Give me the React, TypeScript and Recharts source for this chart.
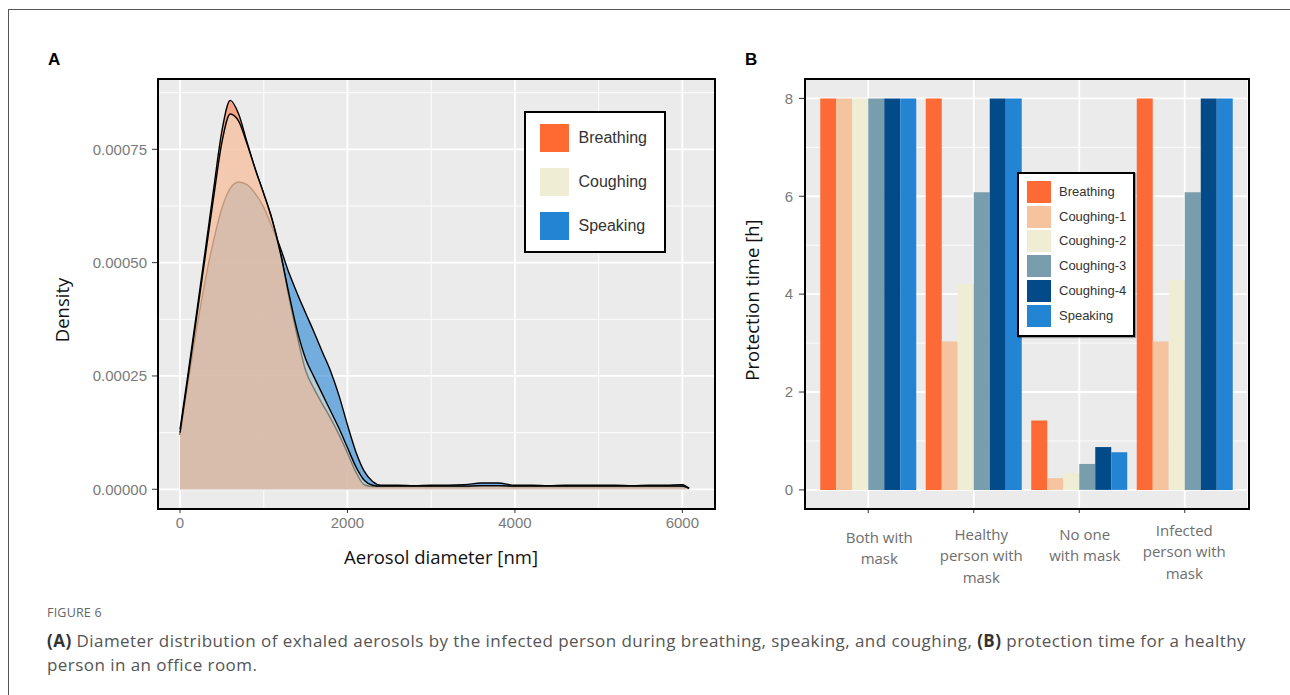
import React from "react";
import { AreaChart, Area, BarChart, Bar, XAxis, YAxis, CartesianGrid } from "recharts";

// ---- panel A: density of exhaled aerosol diameter ----
const diameters = [
  0, 100, 200, 300, 400, 500, 600, 700, 800, 900, 1000, 1100, 1200, 1300, 1400, 1500, 1600, 1700, 1800, 1900, 2000,
  2100, 2200, 2300, 2400, 2600, 2800, 3000, 3200, 3400, 3600, 3800, 4000, 4200, 4400, 4600, 4800, 5000, 5200, 5400,
  5600, 5800, 6000, 6080,
];
const breathingDensity = [
  0.000132, 0.00026, 0.000392, 0.000525, 0.00066, 0.00079, 0.000858, 0.000828, 0.000766, 0.000706, 0.000652, 0.000596,
  0.000522, 0.000425, 0.000338, 0.000262, 0.000222, 0.000188, 0.000156, 0.00012, 0.00008, 0.000038, 0.00001,
  0.000006, 0.000006, 0.000006, 0.000006, 0.000006, 0.000006, 0.000006, 0.000007, 0.000007, 0.000006, 0.000006,
  0.000006, 0.000006, 0.000006, 0.000006, 0.000006, 0.000006, 0.000006, 0.000006, 0.000006, 0.000002,
];
const coughingDensity = [
  0.000125, 0.000252, 0.000382, 0.000512, 0.000642, 0.000765, 0.000828, 0.000812, 0.000762, 0.000705, 0.000652,
  0.000594, 0.00052, 0.000432, 0.00035, 0.000288, 0.000248, 0.00021, 0.000172, 0.000134, 0.000092, 0.00005,
  0.00002, 0.000009, 0.000007, 0.000007, 0.000007, 0.000007, 0.000007, 0.000007, 0.000008, 0.000008, 0.000007,
  0.000007, 0.000007, 0.000007, 0.000007, 0.000007, 0.000007, 0.000007, 0.000007, 0.000007, 0.000007, 0.000002,
];
const speakingDensity = [
  0.00012, 0.00024, 0.000355, 0.00046, 0.000548, 0.00062, 0.000664, 0.000678, 0.000672, 0.000652, 0.000622, 0.000578,
  0.000532, 0.000478, 0.000432, 0.000389, 0.000347, 0.000303, 0.00026, 0.000206, 0.000142, 0.000083, 0.00004,
  0.000017, 0.000009, 0.000009, 0.000008, 0.000009, 0.000009, 0.00001, 0.000014, 0.000014, 0.000009, 0.000009,
  0.000008, 0.000009, 0.000009, 0.000009, 0.000009, 0.000008, 0.000009, 0.000009, 0.00001, 0.000002,
];
const densityTicks = [0, 0.00025, 0.0005, 0.00075];
const densityMinor = [0.000125, 0.000375, 0.000625, 0.000875];
const diameterTicks = [0, 2000, 4000, 6000];
const diameterMinor = [1000, 3000, 5000];

// ---- panel B: protection time per scenario ----
const scenarios = ["Both with mask", "Healthy person with mask", "No one with mask", "Infected person with mask"];
const scenarioLines = [["Both with", "mask"], ["Healthy", "person with", "mask"], ["No one", "with mask"], ["Infected", "person with", "mask"]];
const breathingHours = [8, 8, 1.42, 8];
const coughing1Hours = [8, 3.03, 0.24, 3.03];
const coughing2Hours = [8, 4.2, 0.34, 4.29];
const coughing3Hours = [8, 6.08, 0.53, 6.08];
const coughing4Hours = [8, 8, 0.875, 8];
const speakingHours = [8, 8, 0.77, 8];
const hourTicks = [0, 2, 4, 6, 8];
const hourMinor = [1, 3, 5, 7];

const densityRows = diameters.map((d, i) => ({
  d,
  Breathing: breathingDensity[i],
  Coughing: coughingDensity[i],
  Speaking: speakingDensity[i],
}));

const hourRows = scenarios.map((s, i) => ({
  s,
  Breathing: breathingHours[i],
  "Coughing-1": coughing1Hours[i],
  "Coughing-2": coughing2Hours[i],
  "Coughing-3": coughing3Hours[i],
  "Coughing-4": coughing4Hours[i],
  Speaking: speakingHours[i],
}));

const areaSeries = [
  { key: "Breathing", color: "#FF6A33", alpha: 0.55 },
  { key: "Coughing", color: "#EFEED5", alpha: 0.52 },
  { key: "Speaking", color: "#2384D4", alpha: 0.6 },
];
// drawing order: speaking underneath, then breathing, coughing on top
const areaOrder = ["Speaking", "Breathing", "Coughing"];

const barSeries = [
  { key: "Breathing", color: "#FE6A35" },
  { key: "Coughing-1", color: "#F6C39F" },
  { key: "Coughing-2", color: "#EFEDD3" },
  { key: "Coughing-3", color: "#789EAD" },
  { key: "Coughing-4", color: "#024B88" },
  { key: "Speaking", color: "#2384D4" },
];

const tickFont = { fill: "#7a7a7a", fontSize: 15, fontFamily: "'Liberation Sans', Arial, sans-serif" };
const titleFont: React.CSSProperties = { fontFamily: "'Open Sans', sans-serif", fontSize: 18.5, color: "#111", whiteSpace: "nowrap", lineHeight: 1 };

const LABEL_SHIFT = [
  { dx: 11, dy: 19.7 },
  { dx: 7.5, dy: 17 },
  { dx: 5.5, dy: 17 },
  { dx: -0.5, dy: 13 },
];

const ScenarioTick = (props: any) => {
  const { x, y, index } = props;
  const lines = scenarioLines[index] || [];
  const sh = LABEL_SHIFT[index] || { dx: 0, dy: 15 };
  return (
    <g transform={`translate(${x + sh.dx},${y + sh.dy})`}>
      {lines.map((ln, i) => (
        <text
          key={i}
          x={0}
          y={i * 21.3}
          textAnchor="middle"
          dominantBaseline="central"
          fill="#6e6e6e"
          fontSize={15}
          fontFamily="'Open Sans', sans-serif"
        >
          {ln}
        </text>
      ))}
    </g>
  );
};

const abs = (s: React.CSSProperties): React.CSSProperties => ({ position: "absolute", ...s });

export default function App() {
  return (
    <div style={abs({ left: 0, top: 0, width: 1290, height: 695, background: "#fff", overflow: "hidden", fontFamily: "'Open Sans', sans-serif" })}>
      {/* outer frame */}
      <div style={abs({ left: 7.5, top: 8.5, width: 1300, height: 700, borderTop: "1.5px solid #555", borderLeft: "1.5px solid #555" })} />

      <div style={abs({ left: 48, top: 50, fontFamily: "'Liberation Sans', Arial, sans-serif", fontWeight: 700, fontSize: 17, lineHeight: "20px" })}>A</div>
      <div style={abs({ left: 745, top: 50, fontFamily: "'Liberation Sans', Arial, sans-serif", fontWeight: 700, fontSize: 17, lineHeight: "20px" })}>B</div>

      {/* panel A */}
      <div style={abs({ left: 0, top: 0 })}>
        <AreaChart width={760} height={600} data={densityRows} margin={{ top: 79.5, right: 46, bottom: 62, left: 58 }}>
          <CartesianGrid
            fill="#EBEBEB"
            stroke="#ffffff"
            strokeWidth={0.9}
            horizontalValues={densityMinor}
            verticalValues={diameterMinor}
          />
          <CartesianGrid stroke="#ffffff" strokeWidth={1.8} horizontalValues={densityTicks} verticalValues={diameterTicks} />
          <XAxis
            dataKey="d"
            type="number"
            domain={[-263, 6378]}
            allowDataOverflow
            ticks={diameterTicks}
            interval={0}
            axisLine={false}
            tickLine={{ stroke: "#333" }}
            tickSize={5}
            tickMargin={4}
            height={30}
            tick={tickFont}
          />
          <YAxis
            type="number"
            domain={[-0.0000413, 0.000904]}
            allowDataOverflow
            ticks={densityTicks}
            interval={0}
            tickFormatter={(v: number) => v.toFixed(5)}
            axisLine={false}
            tickLine={{ stroke: "#333" }}
            tickSize={6}
            tickMargin={5}
            width={100}
            tick={tickFont}
          />
          {areaOrder.map((k) => {
            const s = areaSeries.find((a) => a.key === k)!;
            return (
              <Area
                key={k}
                dataKey={k}
                type="monotone"
                stroke="#000"
                strokeWidth={1.4}
                fill={s.color}
                fillOpacity={s.alpha}
                isAnimationActive={false}
                dot={false}
                activeDot={false}
              />
            );
          })}
        </AreaChart>
      </div>
      <div style={abs({ left: 156.5, top: 78, width: 559, height: 431.5, border: "2.7px solid #000", boxSizing: "border-box" })} />

      {/* legend A */}
      <div style={abs({ left: 524, top: 111, width: 142, height: 142, border: "2.5px solid #000", background: "#fff", boxSizing: "border-box" })}>
        {areaSeries.map((s, i) => (
          <React.Fragment key={s.key}>
            <div style={abs({ left: 13.5, top: 10.5 + i * 44, width: 29, height: 28, background: s.color })} />
            <div
              style={abs({
                left: 52.5,
                top: 10.5 + i * 44,
                height: 28,
                lineHeight: "28px",
                fontSize: 16,
                color: "#333",
                fontFamily: "'Liberation Sans', Arial, sans-serif",
              })}
            >
              {s.key}
            </div>
          </React.Fragment>
        ))}
      </div>

      <div style={abs({ ...titleFont, left: 62, top: 310, transform: "translate(-50%,-50%) rotate(-90deg)" })}>Density</div>
      <div style={abs({ ...titleFont, left: 441, top: 557, transform: "translate(-50%,-50%)" })}>Aerosol diameter [nm]</div>

      {/* panel B */}
      <div style={abs({ left: 700, top: 0 })}>
        <BarChart
          width={590}
          height={600}
          data={hourRows}
          margin={{ top: 79.5, right: 42, bottom: 62, left: 45 }}
          barCategoryGap={4.75}
          barGap={0}
        >
          <CartesianGrid fill="#EBEBEB" stroke="#ffffff" strokeWidth={0.9} vertical={false} horizontalValues={hourMinor} />
          <CartesianGrid stroke="#ffffff" strokeWidth={1.8} horizontalValues={hourTicks} />
          <XAxis
            dataKey="s"
            padding={{ left: 10.5, right: 10.5 }}
            axisLine={false}
            tickLine={{ stroke: "#333" }}
            tickSize={5}
            tickMargin={4}
            height={30}
            interval={0}
            tick={<ScenarioTick />}
          />
          <YAxis
            type="number"
            domain={[-0.37, 8.386]}
            allowDataOverflow
            ticks={hourTicks}
            interval={0}
            axisLine={false}
            tickLine={{ stroke: "#333" }}
            tickSize={6}
            tickMargin={6}
            width={60}
            tick={tickFont}
          />
          {barSeries.map((s) => (
            <Bar key={s.key} dataKey={s.key} fill={s.color} isAnimationActive={false} />
          ))}
        </BarChart>
      </div>
      <div style={abs({ left: 803.5, top: 78, width: 446, height: 431.5, border: "2.7px solid #000", boxSizing: "border-box" })} />

      {/* legend B */}
      <div style={abs({ left: 1017, top: 172, width: 118, height: 165, border: "2px solid #000", background: "#fff", boxSizing: "border-box", boxShadow: "1px 1px 1px rgba(0,0,0,0.35)" })}>
        {barSeries.map((s, i) => (
          <React.Fragment key={s.key}>
            <div style={abs({ left: 8, top: 7 + i * 24.7, width: 24, height: 22, background: s.color })} />
            <div
              style={abs({
                left: 40,
                top: 7 + i * 24.7,
                height: 22,
                lineHeight: "22px",
                fontSize: 13,
                color: "#333",
                fontFamily: "'Liberation Sans', Arial, sans-serif",
              })}
            >
              {s.key}
            </div>
          </React.Fragment>
        ))}
      </div>

      <div style={abs({ ...titleFont, left: 751.7, top: 300, transform: "translate(-50%,-50%) rotate(-90deg)" })}>Protection time [h]</div>

      {/* caption */}
      <div style={abs({ left: 47, top: 605, fontSize: 12.5, color: "#666", letterSpacing: 0.2, lineHeight: "16px" })}>FIGURE 6</div>
      <div style={abs({ left: 47, top: 629, fontSize: 17, letterSpacing: 0.45, color: "#555", lineHeight: "24px", whiteSpace: "nowrap" })}>
        <b style={{ color: "#333" }}>(A)</b> Diameter distribution of exhaled aerosols by the infected person during breathing, speaking, and
        coughing, <b style={{ color: "#333" }}>(B)</b> protection time for a healthy
        <br />
        person in an office room.
      </div>
    </div>
  );
}
